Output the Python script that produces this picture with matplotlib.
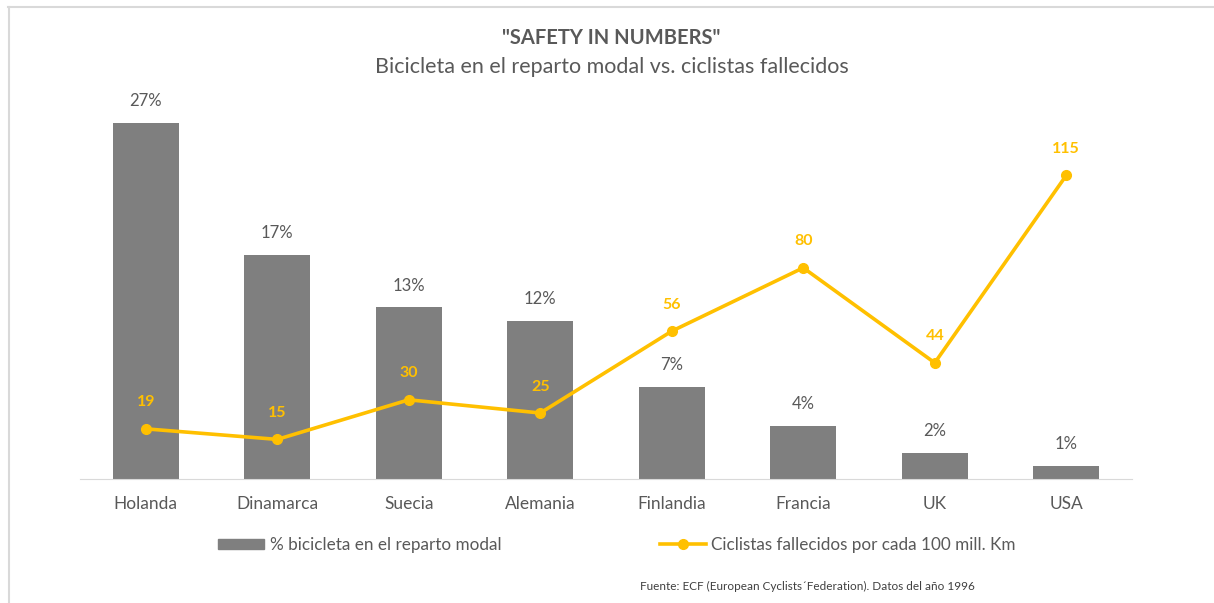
import matplotlib
matplotlib.use("Agg")
import matplotlib.pyplot as plt
from matplotlib.lines import Line2D
from matplotlib.patches import Patch

countries = ["Holanda", "Dinamarca", "Suecia", "Alemania", "Finlandia", "Francia", "UK", "USA"]
bike_share = [27, 17, 13, 12, 7, 4, 2, 1]
deaths = [19, 15, 30, 25, 56, 80, 44, 115]

GREY = "#7f7f7f"
YELLOW = "#ffc000"
TXT = "#595959"
plt.rcParams['font.family'] = ['Lato', 'DejaVu Sans']

fig = plt.figure(figsize=(12.14, 6.03), dpi=100)
ax = fig.add_axes([80/1214, 1-479/603, (1132-80)/1214, (479-83)/603])
ax2 = ax.twinx()

x = list(range(len(countries)))
ax.bar(x, bike_share, width=0.5, color=GREY, zorder=2)
ax.set_xlim(-0.5, len(countries)-0.5)
ax.set_ylim(0, 30)
ax2.set_ylim(0, 150)
for xi, v in zip(x, bike_share):
    ax.annotate(f"{v}%", (xi, v), xytext=(0, 10), textcoords="offset points",
                ha="center", va="bottom", fontsize=12, color=TXT)

ax2.plot(x, deaths, color=YELLOW, lw=2.6, marker="o", ms=7, zorder=3)
for xi, v in zip(x, deaths):
    ax2.annotate(f"{v}", (xi, v), xytext=(0, 14), textcoords="offset points",
                 ha="center", va="bottom", fontsize=11.5, color=YELLOW, fontweight="bold")

for a in (ax, ax2):
    for s in a.spines.values():
        s.set_visible(False)
    a.set_yticks([])
ax.spines['bottom'].set_visible(True)
ax.spines['bottom'].set_color("#d9d9d9")
ax.set_xticks(x)
ax.set_xticklabels(countries, fontsize=12.5, color=TXT)
ax.tick_params(axis='x', length=0, pad=12)

fig.text(611/1214, 1-38/603, '"SAFETY IN NUMBERS"', ha="center", va="center",
         fontsize=14.5, fontweight="bold", color=TXT)
fig.text(612/1214, 1-67/603, "Bicicleta en el reparto modal vs. ciclistas fallecidos",
         ha="center", va="center", fontsize=15.5, color=TXT)

# legend
h1 = Patch(color=GREY, label="% bicicleta en el reparto modal")
h2 = Line2D([], [], color=YELLOW, lw=2.6, marker="o", ms=7,
            label="Ciclistas fallecidos por cada 100 mill. Km")
fig.legend(handles=[h1, h2], loc="center", bbox_to_anchor=(617/1214, 1-545/603),
           ncol=2, frameon=False, fontsize=12.3, labelcolor=TXT, columnspacing=9.3,
           handlelength=2.7, handleheight=0.6, handletextpad=0.3)

fig.text(640/1214, 1-586/603, "Fuente: ECF (European Cyclists´Federation). Datos del año 1996",
         ha="left", va="center", fontsize=8.5, color="#404040")

# frame
fig.add_artist(Line2D([8/1214, 1], [1-7/603, 1-7/603], color="#d9d9d9", lw=1.5))
fig.add_artist(Line2D([9/1214, 9/1214], [0, 1-7/603], color="#d9d9d9", lw=1.5))

fig.savefig("out.png", dpi=100, facecolor="white")
